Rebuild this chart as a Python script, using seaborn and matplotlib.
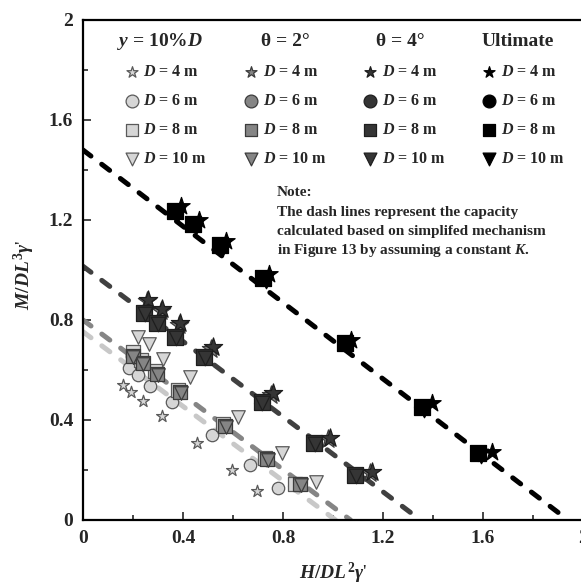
import seaborn as sns
import matplotlib.pyplot as plt
from matplotlib.ticker import MultipleLocator

# dashed capacity lines (intercepts on each axis)
line_m0 = [1.48, 1.015, 0.80, 0.753]
line_h0 = [1.94, 1.35, 1.07, 1.01]
line_colors = ["#000000", "#404040", "#858585", "#c8c8c8"]

# y = 10%D
y10_d4_h = [0.158, 0.192, 0.239, 0.315, 0.457, 0.597, 0.695]
y10_d4_m = [0.540, 0.513, 0.477, 0.417, 0.307, 0.200, 0.117]
y10_d6_h = [0.184, 0.221, 0.268, 0.355, 0.517, 0.668, 0.779]
y10_d6_m = [0.609, 0.580, 0.537, 0.471, 0.340, 0.220, 0.127]
y10_d8_h = [0.200, 0.232, 0.288, 0.380, 0.558, 0.727, 0.848]
y10_d8_m = [0.673, 0.640, 0.595, 0.522, 0.385, 0.250, 0.143]
y10_d10_h = [0.221, 0.264, 0.321, 0.428, 0.621, 0.795, 0.932]
y10_d10_m = [0.733, 0.703, 0.643, 0.573, 0.413, 0.267, 0.153]

# theta = 2 deg
th2_d4_h = [0.255, 0.310, 0.382, 0.512, 0.750, 0.978, 1.147]
th2_d4_m = [0.875, 0.838, 0.782, 0.686, 0.502, 0.326, 0.188]
th2_d6_h = [0.196, 0.237, 0.295, 0.386, 0.566, 0.735, 0.866]
th2_d6_m = [0.655, 0.628, 0.583, 0.512, 0.375, 0.242, 0.142]
th2_d8_h = [0.198, 0.239, 0.297, 0.388, 0.568, 0.737, 0.868]
th2_d8_m = [0.656, 0.629, 0.584, 0.513, 0.376, 0.243, 0.143]
th2_d10_h = [0.200, 0.241, 0.299, 0.390, 0.570, 0.739, 0.870]
th2_d10_m = [0.652, 0.625, 0.580, 0.509, 0.372, 0.239, 0.139]

# theta = 4 deg
th4_d4_h = [0.261, 0.315, 0.388, 0.519, 0.759, 0.988, 1.157]
th4_d4_m = [0.880, 0.843, 0.787, 0.691, 0.507, 0.329, 0.191]
th4_d6_h = [0.243, 0.295, 0.366, 0.482, 0.713, 0.923, 1.086]
th4_d6_m = [0.826, 0.788, 0.732, 0.650, 0.470, 0.306, 0.179]
th4_d8_h = [0.245, 0.297, 0.368, 0.484, 0.715, 0.925, 1.088]
th4_d8_m = [0.827, 0.789, 0.733, 0.651, 0.471, 0.307, 0.180]
th4_d10_h = [0.247, 0.299, 0.370, 0.486, 0.717, 0.927, 1.090]
th4_d10_m = [0.823, 0.785, 0.729, 0.647, 0.467, 0.303, 0.176]

# ultimate
ult_d4_h = [0.390, 0.463, 0.570, 0.742, 1.070, 1.395, 1.635]
ult_d4_m = [1.255, 1.200, 1.115, 0.985, 0.720, 0.467, 0.273]
ult_d6_h = [0.366, 0.439, 0.546, 0.719, 1.046, 1.353, 1.579]
ult_d6_m = [1.236, 1.182, 1.099, 0.966, 0.706, 0.452, 0.266]
ult_d8_h = [0.368, 0.441, 0.548, 0.721, 1.048, 1.355, 1.581]
ult_d8_m = [1.237, 1.183, 1.100, 0.967, 0.707, 0.453, 0.267]
ult_d10_h = [0.378, 0.451, 0.558, 0.731, 1.058, 1.365, 1.591]
ult_d10_m = [1.225, 1.171, 1.088, 0.955, 0.695, 0.441, 0.255]

group_titles = ["$y$ = 10%$D$", "θ = 2°", "θ = 4°", "Ultimate"]
d_labels = ["$D$ = 4 m", "$D$ = 6 m", "$D$ = 8 m", "$D$ = 10 m"]
tick_vals = [0, 0.4, 0.8, 1.2, 1.6, 2]
tick_text = ["0", "0.4", "0.8", "1.2", "1.6", "2"]
note_lines = ["Note:",
              "The dash lines represent the capacity",
              "calculated based on simplifed mechanism",
              "in Figure 13 by assuming a constant $K$."]

# styling
fills = ["#d6d6d6", "#858585", "#353535", "#000000"]
edges = ["#5a5a5a", "#3c3c3c", "#1e1e1e", "#000000"]
markers = ["*", "o", "s", "v"]
sizes = [[80, 80, 95, 95], [190, 80, 95, 95], [190, 100, 120, 110], [170, 100, 120, 110]]

series = [
    [(y10_d4_h, y10_d4_m), (y10_d6_h, y10_d6_m), (y10_d8_h, y10_d8_m), (y10_d10_h, y10_d10_m)],
    [(th2_d4_h, th2_d4_m), (th2_d6_h, th2_d6_m), (th2_d8_h, th2_d8_m), (th2_d10_h, th2_d10_m)],
    [(th4_d4_h, th4_d4_m), (th4_d6_h, th4_d6_m), (th4_d8_h, th4_d8_m), (th4_d10_h, th4_d10_m)],
    [(ult_d4_h, ult_d4_m), (ult_d6_h, ult_d6_m), (ult_d8_h, ult_d8_m), (ult_d10_h, ult_d10_m)],
]

sns.set_style("ticks")
plt.rcParams["font.family"] = ["Liberation Serif", "DejaVu Serif"]
plt.rcParams["font.weight"] = "bold"
plt.rcParams["mathtext.fontset"] = "custom"
plt.rcParams["mathtext.it"] = "Liberation Serif:italic:bold"
plt.rcParams["mathtext.rm"] = "Liberation Serif:bold"
plt.rcParams["mathtext.bf"] = "Liberation Serif:bold"

fig = plt.figure(figsize=(5.81, 5.88), dpi=100)
ax = fig.add_axes([83 / 581, 68 / 588, 500 / 581, 500 / 588])

for m0, h0, c in zip(line_m0, line_h0, line_colors):
    sns.lineplot(x=[0, h0], y=[m0, 0], color=c, lw=3.6, ax=ax,
                 linestyle=(0, (2.0, 2.7)), dash_capstyle="round", zorder=1)

for g in range(4):
    for k in range(4):
        hx, my = series[g][k]
        sns.scatterplot(x=hx, y=my, marker=markers[k], s=sizes[g][k],
                        color=fills[g], edgecolor=edges[g], linewidth=0.9,
                        ax=ax, zorder=3)

# legend block
leg_mx = [0.0975, 0.3355, 0.574, 0.8125]
leg_tx = [0.12, 0.3595, 0.5975, 0.8355]
leg_ry = [0.8965, 0.838, 0.78, 0.7215]
head_x = [0.154, 0.404, 0.634, 0.87]
for g in range(4):
    ax.text(head_x[g], 0.9565, group_titles[g], transform=ax.transAxes,
            ha="center", va="center", fontsize=14, fontweight="bold")
    for k in range(4):
        s = 70 if markers[k] == "*" else 85
        ax.scatter(leg_mx[g], leg_ry[k], transform=ax.transAxes,
                   marker=markers[k], s=s, color=fills[g],
                   edgecolor=edges[g], linewidth=0.9, clip_on=False)
        ax.text(leg_tx[g], leg_ry[k], d_labels[k], transform=ax.transAxes,
                ha="left", va="center", fontsize=11.5, fontweight="bold")

for i, t in enumerate(note_lines):
    ax.text(0.388, 0.654 - i * 0.0385, t, transform=ax.transAxes,
            ha="left", va="center", fontsize=11, fontweight="bold")

ax.set_xlim(0, 2)
ax.set_ylim(0, 2)
ax.set_xticks(tick_vals)
ax.set_xticklabels(tick_text)
ax.set_yticks(tick_vals)
ax.set_yticklabels(tick_text)
ax.xaxis.set_minor_locator(MultipleLocator(0.2))
ax.yaxis.set_minor_locator(MultipleLocator(0.2))
ax.tick_params(which="major", direction="in", length=5.5, width=1.2,
               labelsize=14)
ax.tick_params(which="minor", direction="in", length=3.5, width=1.2)
ax.tick_params(axis="x", which="major", pad=7)
ax.tick_params(axis="y", which="major", pad=7)
for sp in ax.spines.values():
    sp.set_linewidth(1.6)
    sp.set_color("black")

ax.set_xlabel(r"$H/DL^{\mathbf{2}}\gamma$'", fontsize=14)
ax.set_ylabel(r"$M/DL^{\mathbf{3}}\gamma$'", fontsize=14)
ax.xaxis.set_label_coords(0.5, -0.082)
ax.yaxis.set_label_coords(-0.092, 0.49)

fig.savefig("out.png", dpi=100)
